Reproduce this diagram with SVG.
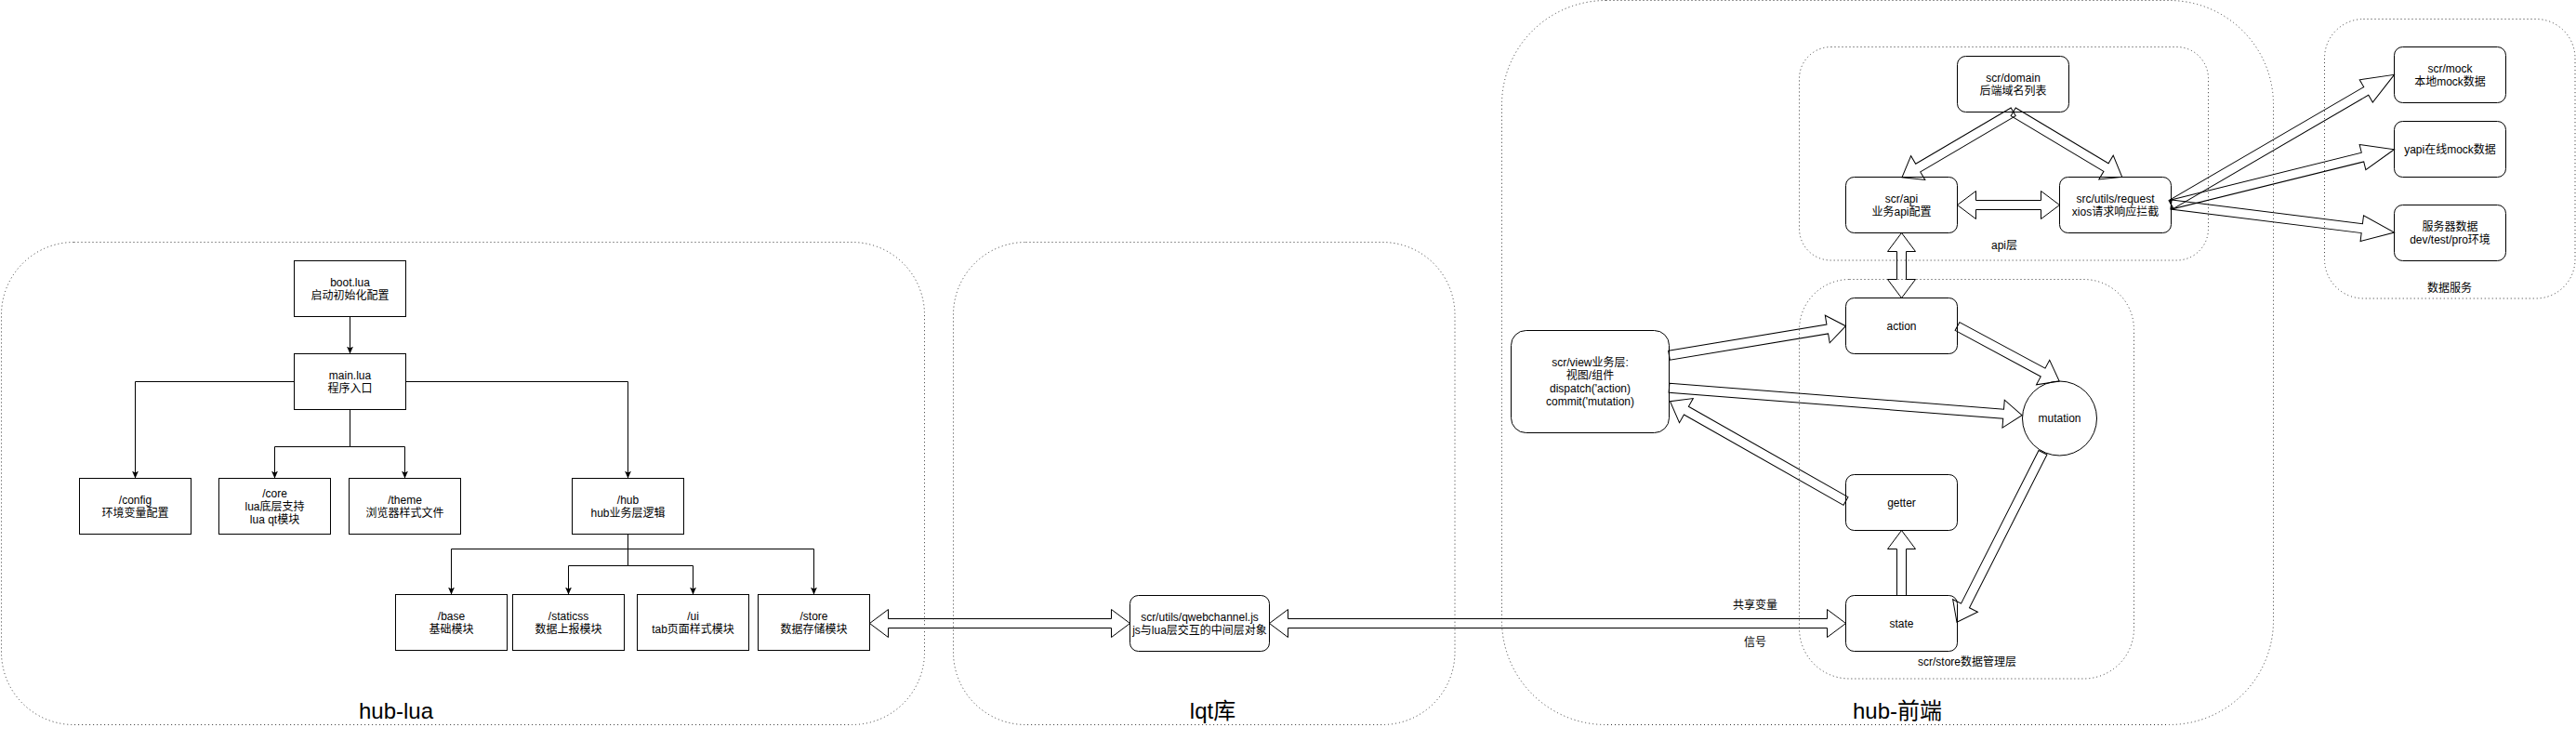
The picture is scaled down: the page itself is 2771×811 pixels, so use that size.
<svg xmlns="http://www.w3.org/2000/svg" width="2771" height="811" viewBox="0 0 2771 811">
<defs>
<style>
.ctr{fill:none;stroke:#333;stroke-width:1;stroke-dasharray:1 3}
.box{fill:#fff;stroke:#000;stroke-width:1}
.t{font-family:"Liberation Sans","Noto Sans CJK SC",sans-serif;font-size:12px;fill:#000;text-anchor:middle}
.big{font-size:24px}
.fa{fill:none;stroke:#000;stroke-width:1;stroke-linejoin:miter}
.ln{fill:none;stroke:#000;stroke-width:1}
</style>
<marker id="ah" markerUnits="userSpaceOnUse" markerWidth="8" markerHeight="8" viewBox="0 0 8 8" refX="8" refY="4" orient="auto"><path d="M0,0.5 L8,4 L0,7.5 L2,4 Z" fill="#000"/></marker>
</defs>
<rect x="0" y="0" width="2771" height="811" fill="#fff"/>

<g id="containers">
<g id="c-hub-lua"><rect class="ctr" x="1.5" y="260.5" width="993" height="519" rx="78"/><text class="t big" x="426" y="773">hub-lua</text></g>
<g id="c-lqt"><rect class="ctr" x="1025.5" y="260.5" width="539.5" height="519" rx="78"/><text class="t big" x="1304.5" y="773">lqt库</text></g>
<g id="c-hub-front"><rect class="ctr" x="1615.5" y="0.5" width="830" height="779" rx="112"/><text class="t big" x="2041" y="773">hub-前端</text></g>
<g id="c-api"><rect class="ctr" x="1935.5" y="50.5" width="440" height="229.5" rx="34"/><text class="t" x="2156" y="268">api层</text></g>
<g id="c-store"><rect class="ctr" x="1935.5" y="300.5" width="360" height="429.5" rx="54"/><text class="t" x="2116" y="716">scr/store数据管理层</text></g>
<g id="c-data"><rect class="ctr" x="2500.5" y="20.5" width="269.5" height="300.5" rx="42"/><text class="t" x="2635" y="314">数据服务</text></g>
</g>

<g id="n-boot"><rect class="box" x="316.5" y="280.5" width="120" height="60"/><text class="t"><tspan x="376.5" y="307.5">boot.lua</tspan><tspan x="376.5" y="321.5">启动初始化配置</tspan></text></g>
<g id="n-main"><rect class="box" x="316.5" y="380.5" width="120" height="60"/><text class="t"><tspan x="376.5" y="407.5">main.lua</tspan><tspan x="376.5" y="421.5">程序入口</tspan></text></g>
<g id="n-config"><rect class="box" x="85.5" y="514.5" width="120" height="60"/><text class="t"><tspan x="145.5" y="541.5">/config</tspan><tspan x="145.5" y="555.5">环境变量配置</tspan></text></g>
<g id="n-core"><rect class="box" x="235.5" y="514.5" width="120" height="60"/><text class="t"><tspan x="295.5" y="534.5">/core</tspan><tspan x="295.5" y="548.5">lua底层支持</tspan><tspan x="295.5" y="562.5">lua qt模块</tspan></text></g>
<g id="n-theme"><rect class="box" x="375.5" y="514.5" width="120" height="60"/><text class="t"><tspan x="435.5" y="541.5">/theme</tspan><tspan x="435.5" y="555.5">浏览器样式文件</tspan></text></g>
<g id="n-hub"><rect class="box" x="615.5" y="514.5" width="120" height="60"/><text class="t"><tspan x="675.5" y="541.5">/hub</tspan><tspan x="675.5" y="555.5">hub业务层逻辑</tspan></text></g>
<g id="n-base"><rect class="box" x="425.5" y="639.5" width="120" height="60"/><text class="t"><tspan x="485.5" y="666.5">/base</tspan><tspan x="485.5" y="680.5">基础模块</tspan></text></g>
<g id="n-staticss"><rect class="box" x="551.5" y="639.5" width="120" height="60"/><text class="t"><tspan x="611.5" y="666.5">/staticss</tspan><tspan x="611.5" y="680.5">数据上报模块</tspan></text></g>
<g id="n-ui"><rect class="box" x="685.5" y="639.5" width="120" height="60"/><text class="t"><tspan x="745.5" y="666.5">/ui</tspan><tspan x="745.5" y="680.5">tab页面样式模块</tspan></text></g>
<g id="n-store"><rect class="box" x="815.5" y="639.5" width="120" height="60"/><text class="t"><tspan x="875.5" y="666.5">/store</tspan><tspan x="875.5" y="680.5">数据存储模块</tspan></text></g>

<g id="n-qweb"><rect class="box" x="1215.5" y="640.5" width="150" height="60" rx="9"/><text class="t"><tspan x="1290.5" y="667.5">scr/utils/qwebchannel.js</tspan><tspan x="1290.5" y="681.5">js与lua层交互的中间层对象</tspan></text></g>

<g id="n-domain"><rect class="box" x="2105.5" y="60.5" width="120" height="60" rx="9"/><text class="t"><tspan x="2165.5" y="87.5">scr/domain</tspan><tspan x="2165.5" y="101.5">后端域名列表</tspan></text></g>
<g id="n-api"><rect class="box" x="1985.5" y="190.5" width="120" height="60" rx="9"/><text class="t"><tspan x="2045.5" y="217.5">scr/api</tspan><tspan x="2045.5" y="231.5">业务api配置</tspan></text></g>
<g id="n-request"><rect class="box" x="2215.5" y="190.5" width="120" height="60" rx="9"/><text class="t"><tspan x="2275.5" y="217.5">src/utils/request</tspan><tspan x="2275.5" y="231.5">xios请求响应拦截</tspan></text></g>
<g id="n-action"><rect class="box" x="1985.5" y="320.5" width="120" height="60" rx="9"/><text class="t" x="2045.5" y="354.5">action</text></g>
<g id="n-getter"><rect class="box" x="1985.5" y="510.5" width="120" height="60" rx="9"/><text class="t" x="2045.5" y="544.5">getter</text></g>
<g id="n-state"><rect class="box" x="1985.5" y="640.5" width="120" height="60" rx="9"/><text class="t" x="2045.5" y="674.5">state</text></g>
<g id="n-mutation"><circle class="box" cx="2215.5" cy="450" r="40"/><text class="t" x="2215.5" y="454">mutation</text></g>
<g id="n-view"><rect class="box" x="1625.5" y="355.5" width="170" height="110" rx="16"/><text class="t"><tspan x="1710.5" y="394">scr/view业务层:</tspan><tspan x="1710.5" y="408">视图/组件</tspan><tspan x="1710.5" y="422">dispatch('action)</tspan><tspan x="1710.5" y="436">commit('mutation)</tspan></text></g>

<g id="n-mock"><rect class="box" x="2575.5" y="50.5" width="120" height="60" rx="9"/><text class="t"><tspan x="2635.5" y="77.5">scr/mock</tspan><tspan x="2635.5" y="91.5">本地mock数据</tspan></text></g>
<g id="n-yapi"><rect class="box" x="2575.5" y="130.5" width="120" height="60" rx="9"/><text class="t" x="2635.5" y="164.5">yapi在线mock数据</text></g>
<g id="n-server"><rect class="box" x="2575.5" y="220.5" width="120" height="60" rx="9"/><text class="t"><tspan x="2635.5" y="247.5">服务器数据</tspan><tspan x="2635.5" y="261.5">dev/test/pro环境</tspan></text></g>

<g id="connectors">
<path class="ln" d="M376.5,340.5 V380.5" marker-end="url(#ah)"/>
<path class="ln" d="M316.5,410.5 H145.5 V514.5" marker-end="url(#ah)"/>
<path class="ln" d="M376.5,440.5 V480.5 H295.5 V514.5" marker-end="url(#ah)"/>
<path class="ln" d="M376.5,480.5 H435.5 V514.5" marker-end="url(#ah)"/>
<path class="ln" d="M436.5,410.5 H675.5 V514.5" marker-end="url(#ah)"/>
<path class="ln" d="M675.5,574.5 V590.5 H485.5 V639.5" marker-end="url(#ah)"/>
<path class="ln" d="M675.5,590.5 H875.5 V639.5" marker-end="url(#ah)"/>
<path class="ln" d="M675.5,590.5 V608.5 H611.5 V639.5" marker-end="url(#ah)"/>
<path class="ln" d="M675.5,608.5 H745.5 V639.5" marker-end="url(#ah)"/>

<polygon class="fa" transform="translate(935.5,670.5)" points="0,0 20,-15 20,-5 260,-5 260,-15 280,0 260,15 260,5 20,5 20,15"/>
<polygon class="fa" transform="translate(1365.5,670.5)" points="0,0 20,-15 20,-5 600,-5 600,-15 620,0 600,15 600,5 20,5 20,15"/>
<polygon class="fa" transform="translate(2105.5,220.5)" points="0,0 20,-15 20,-5 90,-5 90,-15 110,0 90,15 90,5 20,5 20,15"/>
<polygon class="fa" transform="translate(2045.5,250.5) rotate(90)" points="0,0 20,-15 20,-5 50,-5 50,-15 70,0 50,15 50,5 20,5 20,15"/>
<polygon class="fa" transform="translate(2045.5,640.5) rotate(-90)" points="0,-5 50,-5 50,-15 70,0 50,15 50,5 0,5"/>
<polygon class="fa" transform="translate(2165.7,120.3) rotate(149.54)" points="0,-5 118.9,-5 118.9,-15 138.9,0 118.9,15 118.9,5 0,5"/>
<polygon class="fa" transform="translate(2165.7,120.3) rotate(30.89)" points="0,-5 116.3,-5 116.3,-15 136.3,0 116.3,15 116.3,5 0,5"/>
<polygon class="fa" transform="translate(1795.5,382.3) rotate(-9.44)" points="0,-5 172.6,-5 172.6,-15 192.6,0 172.6,15 172.6,5 0,5"/>
<polygon class="fa" transform="translate(1795.5,417.3) rotate(4.43)" points="0,-5 360.7,-5 360.7,-15 380.7,0 360.7,15 360.7,5 0,5"/>
<polygon class="fa" transform="translate(1985.5,539) rotate(-150.42)" points="0,-5 197.3,-5 197.3,-15 217.3,0 197.3,15 197.3,5 0,5"/>
<polygon class="fa" transform="translate(2105.5,351) rotate(28.27)" points="0,-5 104.6,-5 104.6,-15 124.6,0 104.6,15 104.6,5 0,5"/>
<polygon class="fa" transform="translate(2197.5,486.7) rotate(116.87)" points="0,-5 184.7,-5 184.7,-15 204.7,0 184.7,15 184.7,5 0,5"/>
<polygon class="fa" transform="translate(2335.5,220) rotate(-30.2)" points="0,-5 242.7,-5 242.7,-14 277.7,0 242.7,14 242.7,5 0,5"/>
<polygon class="fa" transform="translate(2335.5,220) rotate(-13.88)" points="0,-5 212.2,-5 212.2,-14 247.2,0 212.2,14 212.2,5 0,5"/>
<polygon class="fa" transform="translate(2335.5,220) rotate(7.125)" points="0,-5 206.9,-5 206.9,-14 241.9,0 206.9,14 206.9,5 0,5"/>
<text class="t" x="1888" y="655">共享变量</text>
<text class="t" x="1888" y="695">信号</text>
</g>
</svg>
